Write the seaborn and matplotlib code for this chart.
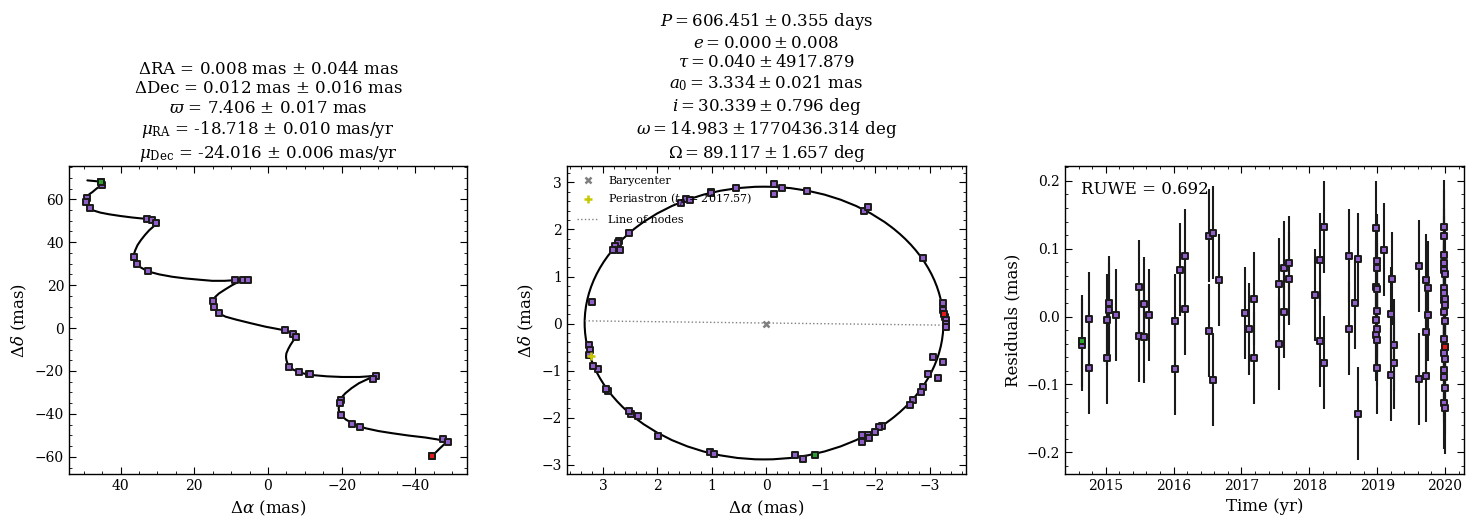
import numpy as np
import matplotlib
matplotlib.use("Agg")
import matplotlib.pyplot as plt
import seaborn as sns
from matplotlib.patches import Ellipse
from matplotlib.ticker import AutoMinorLocator

# ---- left panel: sky track (mas) ----
ra_obs = [45.3, 45.1, 49.1, 49.4, 48.3, 32.9, 31.5, 30.3, 36.3, 35.6, 32.6,
          8.9, 6.8, 5.4, 15.0, 14.7, 13.3, -4.6, -6.8, -7.5, -5.7, -8.3,
          -11.1, -11.3, -29.2, -28.4, -19.7, -19.6, -19.8, -22.8, -24.9,
          -47.4, -48.8, -44.5]
dec_obs = [67.9, 66.7, 60.5, 58.8, 56.0, 50.9, 50.4, 49.0, 33.2, 29.9, 26.7,
           22.5, 22.5, 22.5, 12.7, 9.9, 7.0, -1.1, -2.6, -4.0, -18.0, -20.3,
           -21.2, -21.6, -22.2, -23.6, -33.5, -34.9, -40.5, -44.5, -46.0,
           -51.9, -53.2, -59.7]
ra_model = [49.0, 45.3, 45.1, 46.5, 47.6, 48.5, 49.0, 49.4, 49.2, 48.7, 47.6,
            45.5, 43.1, 40.0, 36.8, 34.5, 32.9, 30.3, 31.0, 32.2, 33.4, 34.5,
            35.4, 36.0, 36.6, 36.4, 35.9, 34.8, 33.2, 31.5, 29.5, 26.0, 22.3,
            18.5, 15.1, 11.8, 8.9, 6.1, 8.0, 9.7, 11.6, 13.3, 14.3, 14.9,
            14.9, 14.7, 14.2, 13.3, 11.5, 8.8, 4.8, 0.6, -2.2, -4.6, -6.3,
            -7.5, -6.9, -6.1, -5.5, -5.0, -4.9, -5.0, -5.3, -5.7, -6.9, -8.4,
            -10.0, -12.0, -16.0, -20.1, -24.8, -29.2, -26.8, -24.7, -22.7,
            -21.0, -20.0, -19.5, -19.2, -19.3, -20.0, -21.2, -22.9, -24.6,
            -26.5, -30.0, -33.7, -38.2, -42.7, -46.0, -48.6, -46.5, -44.5]
dec_model = [68.8, 68.2, 66.7, 65.0, 63.4, 62.3, 61.1, 58.8, 57.5, 56.4, 54.9,
             53.8, 53.0, 52.2, 51.5, 51.1, 50.9, 49.3, 47.4, 45.6, 43.3, 40.9,
             38.6, 36.3, 33.2, 31.6, 30.1, 28.5, 27.0, 25.9, 25.0, 23.9, 23.1,
             22.5, 22.0, 22.0, 22.3, 23.1, 21.5, 20.0, 18.0, 16.1, 14.5, 13.0,
             11.4, 9.9, 8.3, 6.8, 5.3, 4.0, 2.3, 0.6, -0.3, -1.1, -2.3, -3.7,
             -5.8, -7.9, -9.8, -11.8, -13.4, -14.9, -16.5, -18.0, -19.4,
             -20.6, -21.3, -21.9, -22.5, -22.8, -22.8, -22.3, -24.0, -25.7,
             -28.0, -30.4, -32.3, -34.3, -37.4, -39.2, -40.9, -42.7, -44.3,
             -45.6, -46.7, -48.0, -49.0, -50.1, -51.0, -51.9, -52.9, -56.3,
             -59.7]

# ---- middle panel: orbit (mas) ----
orb_ra = [1.574, 1.476, 1.402, 1.017, 1.017, 0.563, -0.135, -0.135, -0.282,
          -0.753, -1.800, -1.862, 2.517, 2.700, 2.719, 2.780, 2.811, 2.688,
          3.209, -2.872, -3.239, -3.252, -3.288, -3.295, -3.295, -3.295,
          -3.056, -3.239, -2.976, -3.148, -2.884, -2.835, -2.700, -2.639,
          -2.119, -2.076, -1.996, -1.874, -1.751, -1.751, -1.886, -0.527,
          -0.667, 1.035, 0.955, 1.996, 2.364, 2.486, 2.517, 2.897, 2.945,
          3.086, 3.190, 3.252, 3.239, 3.258]
orb_dec = [2.553, 2.645, 2.631, 2.794, 2.766, 2.879, 2.972, 2.759, 2.887,
           2.816, 2.397, 2.482, 1.929, 1.759, 1.702, 1.645, 1.560, 1.574,
           0.461, 1.397, 0.440, 0.284, 0.142, 0.071, -0.014, -0.071,
           -0.709, -0.816, -1.064, -1.156, -1.355, -1.454, -1.617, -1.738,
           -2.177, -2.199, -2.305, -2.376, -2.376, -2.518, -2.433, -2.794,
           -2.879, -2.730, -2.780, -2.383, -1.972, -1.929, -1.858, -1.433,
           -1.397, -0.972, -0.901, -0.447, -0.567, -0.674]
orb_first = (-0.894, -2.794)
orb_last = (-3.264, 0.206)
orbit_center = (0.04, 0.01)
orbit_axes = (6.59, 5.80)
periastron = (3.227, -0.695)
nodes_ra = [3.33, -3.30]
nodes_dec = [0.057, -0.035]

# ---- right panel: residuals ----
t_res = [2014.657, 2014.657, 2014.750, 2014.750, 2015.015, 2015.015, 2015.044,
         2015.044, 2015.147, 2015.495, 2015.495, 2015.559, 2015.559, 2015.642,
         2016.025, 2016.025, 2016.088, 2016.162, 2016.162, 2016.529, 2016.529,
         2016.583, 2016.583, 2016.676, 2017.059, 2017.118, 2017.186, 2017.186,
         2017.554, 2017.554, 2017.632, 2017.632, 2017.706, 2017.706, 2018.083,
         2018.157, 2018.157, 2018.216, 2018.216, 2018.588, 2018.588, 2018.667,
         2018.721, 2018.721, 2018.980, 2018.980, 2018.980, 2018.980, 2019.005,
         2019.005, 2019.005, 2019.005, 2019.005, 2019.005, 2019.005, 2019.103,
         2019.201, 2019.201, 2019.225, 2019.250, 2019.250, 2019.618, 2019.618,
         2019.716, 2019.716, 2019.716, 2019.750, 2019.750, 2019.990, 2019.990,
         2019.990, 2019.990, 2019.990, 2019.990, 2019.990, 2019.990, 2019.990,
         2019.990, 2019.990, 2019.990, 2019.990, 2019.990, 2020.000, 2020.000,
         2020.000, 2020.000, 2020.000, 2020.000, 2020.000, 2020.000]
resid = [-0.0359, -0.0418, -0.0029, -0.0752, -0.0049, -0.0604, 0.0206, 0.0103,
         0.0029, 0.0442, -0.0280, 0.0192, -0.0295, 0.0029, -0.0059, -0.0767,
         0.0693, 0.0899, 0.0118, 0.1194, -0.0206, 0.1238, -0.0929, 0.0545,
         0.0054, -0.0182, 0.0265, -0.0609, 0.0482, -0.0398, 0.0722, 0.0069,
         0.0796, 0.0560, 0.0319, 0.0840, -0.0354, 0.1322, -0.0678, 0.0899,
         -0.0177, 0.0201, 0.0850, -0.1430, 0.1312, 0.0442, -0.0049, -0.0270,
         0.0826, 0.0722, 0.0403, 0.0088, -0.0177, -0.0344, -0.0752, 0.0988,
         0.0044, -0.0855, 0.0560, -0.0423, -0.0688, 0.0747, -0.0919, 0.0541,
         -0.0221, -0.0870, 0.0428, 0.0020, 0.1327, 0.1189, 0.0909, 0.0796,
         0.0688, 0.0423, 0.0354, 0.0246, 0.0074, -0.0329, -0.0531, -0.0786,
         -0.0885, -0.1268, 0.0629, 0.0265, 0.0172, -0.0064, -0.0629, -0.1052,
         -0.1342, -0.0442]
resid_err = 0.068
ruwe = 0.692

left_title = ("$\\Delta$RA = 0.008 mas $\\pm$ 0.044 mas\n"
              "$\\Delta$Dec = 0.012 mas $\\pm$ 0.016 mas\n"
              "$\\varpi$ = 7.406 $\\pm$ 0.017 mas\n"
              "$\\mu_{\\rm RA}$ = -18.718 $\\pm$ 0.010 mas/yr\n"
              "$\\mu_{\\rm Dec}$ = -24.016 $\\pm$ 0.006 mas/yr")
mid_title = ("$P = 606.451 \\pm 0.355$ days\n"
             "$e = 0.000 \\pm 0.008$\n"
             "$\\tau = 0.040 \\pm 4917.879$\n"
             "$a_0 = 3.334 \\pm 0.021$ mas\n"
             "$i = 30.339 \\pm 0.796$ deg\n"
             "$\\omega = 14.983 \\pm 1770436.314$ deg\n"
             "$\\Omega = 89.117 \\pm 1.657$ deg")

sns.set_style("ticks")
plt.rcParams.update({
    "font.family": ["DejaVu Serif"],
    "mathtext.fontset": "dejavuserif",
    "text.color": "black", "axes.labelcolor": "black",
    "xtick.color": "black", "ytick.color": "black",
    "xtick.direction": "in", "ytick.direction": "in",
    "xtick.top": True, "ytick.right": True,
    "xtick.minor.visible": True, "ytick.minor.visible": True,
    "xtick.major.size": 5, "ytick.major.size": 5,
    "xtick.minor.size": 2.5, "ytick.minor.size": 2.5,
    "xtick.labelsize": 10, "ytick.labelsize": 10,
    "axes.edgecolor": "black", "axes.linewidth": 1.0,
})

purple = "#9060c8"
green = "#2ca02c"
red = "#e31a1c"
mk = dict(marker="s", s=24, edgecolor="#1a1a1a", linewidth=1.4, zorder=4)

fig = plt.figure(figsize=(14.73, 5.28), dpi=100)
ax1 = fig.add_axes([0.0468, 0.1023, 0.2702, 0.5833])
ax2 = fig.add_axes([0.3849, 0.1023, 0.2709, 0.5833])
ax3 = fig.add_axes([0.7230, 0.1023, 0.2709, 0.5833])

# left
sns.lineplot(x=ra_model, y=dec_model, sort=False, estimator=None,
             color="black", lw=1.5, ax=ax1, zorder=2)
sns.scatterplot(x=ra_obs, y=dec_obs, color=purple, ax=ax1, **mk)
sns.scatterplot(x=ra_obs[:1], y=dec_obs[:1], color=green, ax=ax1, **mk)
sns.scatterplot(x=ra_obs[-1:], y=dec_obs[-1:], color=red, ax=ax1, **mk)
ax1.set_xlim(54, -54)
ax1.set_ylim(-68, 75.5)
ax1.set_xlabel("$\\Delta\\alpha$ (mas)", fontsize=12)
ax1.set_ylabel("$\\Delta\\delta$ (mas)", fontsize=12)
ax1.set_title(left_title, fontsize=12, linespacing=1.17)

# middle
ax2.add_patch(Ellipse(orbit_center, orbit_axes[0], orbit_axes[1], fill=False,
                      color="black", lw=1.5, zorder=2))
ax2.plot(nodes_ra, nodes_dec, ls=":", color="grey", lw=1, label="Line of nodes")
sns.scatterplot(x=orb_ra, y=orb_dec, color=purple, ax=ax2, **mk)
sns.scatterplot(x=[orb_first[0]], y=[orb_first[1]], color=green, ax=ax2, **mk)
sns.scatterplot(x=[orb_last[0]], y=[orb_last[1]], color=red, ax=ax2, **mk)
ax2.plot([0], [0], "x", color="grey", ms=5, mew=1.8, ls="none",
         label="Barycenter", zorder=5)
ax2.plot([periastron[0]], [periastron[1]], "+", color="#c8c800", ms=6,
         mew=1.8, ls="none", label="Periastron ($t_{p}$ = 2017.57)", zorder=5)
h, l = ax2.get_legend_handles_labels()
order = [l.index("Barycenter"), l.index("Periastron ($t_{p}$ = 2017.57)"),
         l.index("Line of nodes")]
ax2.legend([h[i] for i in order], [l[i] for i in order], loc="upper left",
           fontsize=8, frameon=False)
ax2.set_xlim(3.66, -3.67)
ax2.set_ylim(-3.2, 3.35)
ax2.set_xlabel("$\\Delta\\alpha$ (mas)", fontsize=12)
ax2.set_ylabel("$\\Delta\\delta$ (mas)", fontsize=12)
ax2.set_title(mid_title, fontsize=12, linespacing=1.17)

# right
ax3.errorbar(t_res, resid, yerr=resid_err, fmt="none", ecolor="#1a1a1a",
             elinewidth=1.5, zorder=2)
sns.scatterplot(x=t_res, y=resid, color=purple, ax=ax3, **mk)
sns.scatterplot(x=t_res[:1], y=resid[:1], color=green, ax=ax3, **mk)
sns.scatterplot(x=t_res[-1:], y=resid[-1:], color=red, ax=ax3, **mk)
ax3.set_xlim(2014.4, 2020.28)
ax3.set_ylim(-0.232, 0.222)
ax3.set_xlabel("Time (yr)", fontsize=12)
ax3.set_ylabel("Residuals (mas)", fontsize=12)
ax3.text(0.04, 0.95, f"RUWE = {ruwe:.3f}", transform=ax3.transAxes,
         fontsize=12, va="top")

for ax in (ax1, ax2, ax3):
    ax.xaxis.set_minor_locator(AutoMinorLocator())
    ax.yaxis.set_minor_locator(AutoMinorLocator())
    ax.tick_params(which="both", direction="in", top=True, right=True)

fig.savefig("out.png", dpi=100)
